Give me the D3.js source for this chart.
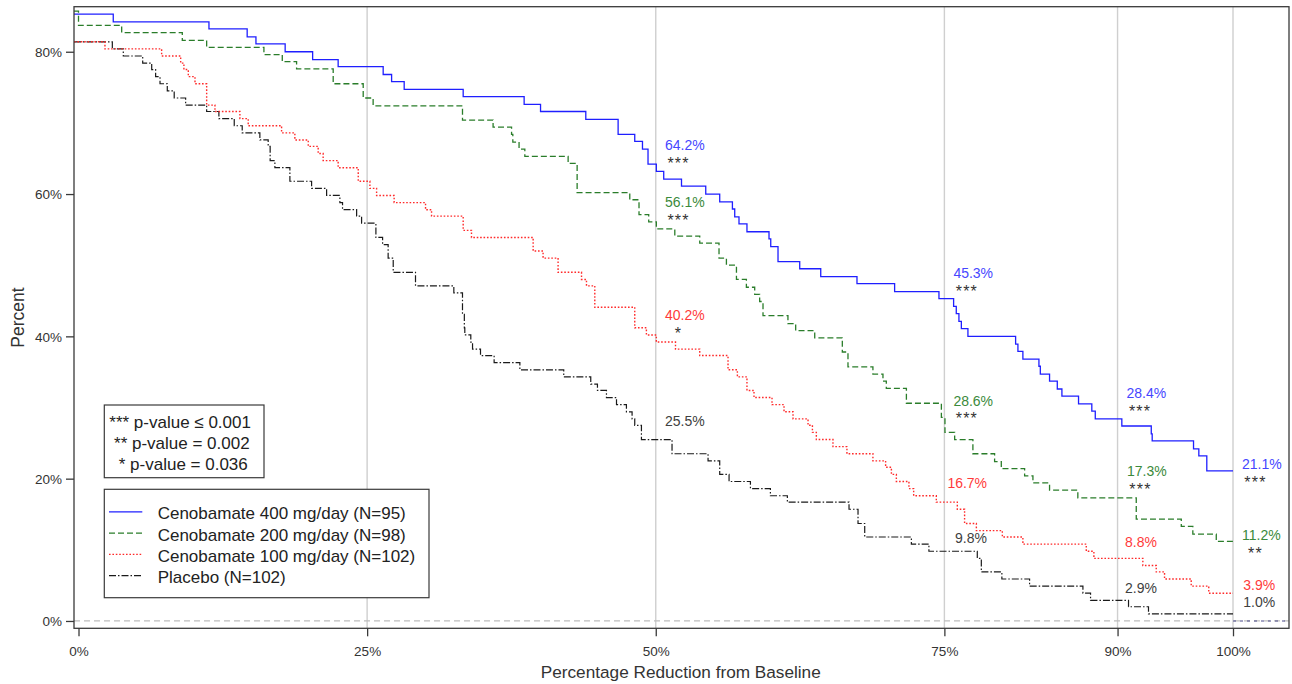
<!DOCTYPE html>
<html>
<head>
<meta charset="utf-8">
<script src="https://cdn.jsdelivr.net/npm/d3@7/dist/d3.min.js"></script>
<style>
  html, body { margin: 0; padding: 0; background: #fff; }
  svg { display: block; font-family: "Liberation Sans", Arial, sans-serif; }
</style>
</head>
<body>
<svg id="chart" width="1292" height="684"></svg>
<script>
// ---------------- DATA ----------------
const seriesNames = ["Cenobamate 400 mg/day (N=95)", "Cenobamate 200 mg/day (N=98)", "Cenobamate 100 mg/day (N=102)", "Placebo (N=102)"];

const blueStart = 85.3;
const blueX = [3.01, 11.30, 14.61, 15.37, 17.90, 20.28, 22.49, 26.39, 27.12, 28.21, 33.32, 38.60, 40.02, 43.94, 46.74, 48.18, 48.85, 49.33, 50.05, 50.69, 52.23, 54.33, 55.54, 56.64, 56.84, 57.21, 57.90, 59.81, 59.96, 60.59, 62.47, 64.29, 67.43, 70.69, 74.53, 75.80, 76.03, 76.26, 76.47, 77.04, 81.17, 81.37, 81.80, 83.19, 83.31, 84.11, 84.78, 85.18, 86.62, 87.77, 88.07, 90.37, 92.92, 93.00, 96.58, 97.04, 97.73];
const blueY = [84.2, 83.2, 82.1, 81.1, 80.0, 78.9, 77.9, 76.8, 75.8, 74.7, 73.7, 72.6, 71.6, 70.5, 68.4, 67.4, 66.3, 64.2, 63.2, 62.1, 61.1, 60.0, 58.9, 57.9, 56.8, 55.8, 54.7, 53.7, 52.6, 50.5, 49.5, 48.4, 47.4, 46.3, 45.3, 44.2, 43.2, 42.1, 41.1, 40.0, 38.9, 37.9, 36.8, 35.8, 34.7, 33.7, 32.6, 31.6, 30.5, 29.5, 28.4, 27.4, 26.3, 25.3, 24.2, 23.2, 21.1];

const greenStart = 85.7;
const greenX = [0.0, 3.74, 8.99, 11.10, 16.06, 17.65, 18.89, 22.06, 24.66, 25.52, 33.26, 35.91, 37.51, 37.62, 38.16, 38.66, 42.41, 43.19, 47.75, 48.55, 49.39, 50.05, 51.65, 53.81, 55.48, 56.12, 56.99, 57.85, 58.57, 59.00, 59.29, 61.45, 62.12, 63.77, 66.16, 66.65, 68.81, 69.68, 69.97, 71.71, 74.74, 75.05, 75.89, 77.47, 79.35, 79.93, 81.95, 82.67, 84.11, 86.56, 91.62, 95.52, 96.52, 98.55];
const greenY = [83.7, 82.7, 81.6, 80.6, 79.6, 78.6, 77.6, 75.5, 73.5, 72.4, 70.4, 69.4, 68.4, 67.3, 66.3, 65.3, 64.3, 60.2, 59.2, 57.1, 56.1, 55.1, 54.1, 53.1, 51.0, 50.0, 48.0, 46.9, 45.9, 44.9, 42.9, 41.8, 40.8, 39.8, 37.8, 35.7, 34.7, 33.7, 32.7, 30.6, 28.6, 26.5, 25.5, 23.5, 22.4, 21.4, 20.4, 19.4, 18.4, 17.3, 14.3, 13.3, 12.2, 11.2];

const redStart = 81.4;
const redX = [2.29, 7.20, 8.85, 9.13, 9.51, 10.09, 11.10, 11.82, 13.98, 14.70, 17.59, 18.74, 19.90, 20.76, 21.19, 22.49, 24.23, 25.24, 25.82, 27.34, 30.06, 30.58, 33.32, 34.04, 39.38, 40.24, 41.54, 43.57, 44.00, 44.72, 48.18, 49.19, 50.05, 51.71, 53.81, 56.26, 57.07, 57.90, 58.51, 60.07, 61.11, 61.89, 63.19, 63.57, 63.91, 65.35, 66.56, 68.81, 69.91, 70.41, 70.84, 71.93, 72.34, 74.30, 76.12, 76.75, 77.77, 80.02, 81.80, 87.29, 87.95, 92.19, 93.35, 94.07, 96.38, 97.90];
const redY = [80.4, 79.4, 78.4, 77.5, 76.5, 75.5, 72.5, 71.6, 70.6, 69.6, 68.6, 67.6, 66.7, 65.7, 64.7, 63.7, 61.8, 60.8, 59.8, 58.8, 57.8, 56.9, 54.9, 53.9, 52.0, 51.0, 49.0, 48.0, 47.1, 44.1, 41.2, 40.2, 39.2, 38.2, 37.3, 35.3, 34.3, 32.4, 31.4, 30.4, 29.4, 28.4, 27.5, 26.5, 25.5, 24.5, 23.5, 22.5, 21.6, 20.6, 19.6, 18.6, 17.6, 16.7, 15.7, 13.7, 12.7, 11.8, 10.8, 9.8, 8.8, 7.8, 6.9, 5.9, 4.9, 3.9];

const placeboStart = 81.4;
const placeboX = [2.93, 3.88, 5.56, 6.34, 6.68, 7.06, 7.69, 8.29, 9.28, 11.10, 12.16, 13.49, 14.18, 15.71, 16.43, 16.60, 17.01, 18.31, 20.19, 21.49, 22.64, 22.87, 24.09, 24.52, 25.76, 26.34, 26.82, 27.26, 29.19, 32.51, 33.26, 33.42, 33.46, 33.98, 34.13, 34.82, 36.00, 38.23, 42.03, 44.37, 44.95, 45.73, 46.60, 47.46, 47.95, 48.18, 48.76, 51.41, 54.53, 55.54, 56.35, 58.20, 59.93, 61.40, 66.74, 67.52, 68.10, 72.14, 73.66, 77.85, 78.20, 79.98, 82.38, 87.00, 87.66, 90.95, 92.68];
const placeboY = [80.4, 79.4, 78.4, 77.5, 76.5, 75.5, 74.5, 73.5, 72.5, 71.6, 70.6, 69.6, 68.6, 67.6, 66.7, 64.7, 63.7, 61.8, 60.8, 59.8, 58.8, 57.8, 56.9, 55.9, 53.9, 52.9, 51.0, 49.0, 47.1, 46.1, 43.1, 41.2, 40.2, 39.2, 38.2, 37.3, 36.3, 35.3, 34.3, 33.3, 32.4, 31.4, 30.4, 29.4, 28.4, 27.5, 25.5, 23.5, 22.5, 20.6, 19.6, 18.6, 17.6, 16.7, 15.7, 13.7, 11.8, 10.8, 9.8, 8.8, 6.9, 5.9, 4.9, 3.9, 2.9, 2.0, 1.0];

// thresholds and annotated values
const thresholds = [50, 75, 90, 100];
const blueLabels = ["64.2%", "45.3%", "28.4%", "21.1%"];
const greenLabels = ["56.1%", "28.6%", "17.3%", "11.2%"];
const redLabels = ["40.2%", "16.7%", "8.8%", "3.9%"];
const placeboLabels = ["25.5%", "9.8%", "2.9%", "1.0%"];
const blueStars = ["***", "***", "***", "***"];
const greenStars = ["***", "***", "***", "**"];
const redStars = ["*", "", "", ""];

const xTicks = [0, 25, 50, 75, 90, 100];
const yTicks = [0, 20, 40, 60, 80];
const pLegend = ["*** p-value \u2264 0.001", " ** p-value = 0.002", "  * p-value = 0.036"];

// ---------------- LAYOUT ----------------
const svg = d3.select("#chart");
const frame = { left: 74, right: 1289, top: 6.7, bottom: 628.3 };
const x = d3.scaleLinear().domain([-0.39, 104.85]).range([frame.left, frame.right]);
const y = d3.scaleLinear().domain([-1.03, 86.33]).range([frame.bottom, frame.top]);

const styles = [
  { line: "#1f1fff", text: "#4646ff", dash: null, w: 1.3 },
  { line: "#2a7d2a", text: "#3b8a3b", dash: "6,3", w: 1.3 },
  { line: "#ff2a2a", text: "#ff3a3a", dash: "1.6,1.8", w: 1.4 },
  { line: "#1a1a1a", text: "#404040", dash: "7,2,1.5,2", w: 1.2 }
];

// gridlines
svg.append("g").selectAll("line").data(xTicks.filter(d => d > 0)).join("line")
  .attr("x1", d => x(d)).attr("x2", d => x(d))
  .attr("y1", frame.top).attr("y2", frame.bottom)
  .attr("stroke", "#cfcfcf").attr("stroke-width", 1.4);

// zero reference line
svg.append("line")
  .attr("x1", frame.left).attr("x2", frame.right)
  .attr("y1", y(0)).attr("y2", y(0))
  .attr("stroke", "#bdbdbd").attr("stroke-width", 1.2).attr("stroke-dasharray", "6,4");
svg.append("line")
  .attr("x1", x(100)).attr("x2", frame.right)
  .attr("y1", y(0)).attr("y2", y(0))
  .attr("stroke", "#4a4a8a").attr("stroke-width", 1.1).attr("stroke-dasharray", "3,4");

// curves
const seriesData = [
  [blueStart, blueX, blueY],
  [greenStart, greenX, greenY],
  [redStart, redX, redY],
  [placeboStart, placeboX, placeboY]
].map(([s, xs, ys]) => {
  const pts = [[x.domain()[0], s]];
  xs.forEach((v, i) => pts.push([v, ys[i]]));
  pts.push([100, ys[ys.length - 1]]);
  return pts;
});

const line = d3.line().x(d => x(d[0])).y(d => y(d[1])).curve(d3.curveStepAfter);
const curveG = svg.append("g");
[3, 2, 1, 0].forEach(i => {
  curveG.append("path")
    .datum(seriesData[i])
    .attr("d", line)
    .attr("fill", "none")
    .attr("stroke", styles[i].line)
    .attr("stroke-width", styles[i].w)
    .attr("stroke-dasharray", styles[i].dash);
});

// frame
svg.append("rect")
  .attr("x", frame.left).attr("y", frame.top)
  .attr("width", frame.right - frame.left).attr("height", frame.bottom - frame.top)
  .attr("fill", "none").attr("stroke", "#3a3a3a").attr("stroke-width", 1.3);

// axes
const xAxis = svg.append("g").attr("transform", `translate(0,${frame.bottom})`)
  .call(d3.axisBottom(x).tickValues(xTicks).tickFormat(d => d + "%").tickSize(8).tickPadding(10));
const yAxis = svg.append("g").attr("transform", `translate(${frame.left},0)`)
  .call(d3.axisLeft(y).tickValues(yTicks).tickFormat(d => d + "%").tickSize(8).tickPadding(4));
[xAxis, yAxis].forEach(g => {
  g.select(".domain").remove();
  g.selectAll(".tick line").attr("stroke", "#3a3a3a").attr("stroke-width", 1.3);
  g.selectAll(".tick text").attr("fill", "#333").style("font-size", "13.5px")
    .style("font-family", "'Liberation Sans', Arial, sans-serif");
});
yAxis.selectAll(".tick text").attr("dy", "0.36em");

// axis titles
svg.append("text").attr("x", (x(0) + x(100)) / 2 + 25).attr("y", 678)
  .attr("text-anchor", "middle").attr("fill", "#333").style("font-size", "17.2px")
  .text("Percentage Reduction from Baseline");
svg.append("text").attr("transform", "translate(24,317.5) rotate(-90)")
  .attr("text-anchor", "middle").attr("fill", "#333").style("font-size", "17.5px")
  .text("Percent");

// annotations: [label start offset px, baseline px]
const annLayout = [
  [[9.3, 150], [9, 278.3], [9, 398.3], [9, 469.3]],
  [[9.3, 207], [9, 405.7], [9.4, 476], [9, 540]],
  [[9.3, 320], [3, 488], [7.4, 547.3], [10.3, 590]],
  [[9.3, 426], [10.6, 543.3], [7.4, 593.3], [10.3, 606.7]]
];
const allLabels = [blueLabels, greenLabels, redLabels, placeboLabels];
const allStars = [blueStars, greenStars, redStars, ["", "", "", ""]];
const annG = svg.append("g");
allLabels.forEach((labels, si) => {
  labels.forEach((lab, ti) => {
    const [dx, by] = annLayout[si][ti];
    const sx = x(thresholds[ti]) + dx;
    annG.append("text").attr("x", sx).attr("y", by)
      .attr("fill", styles[si].text).style("font-size", "14px").text(lab);
    const st = allStars[si][ti];
    if (st) {
      annG.append("text").attr("x", sx + 13.5).attr("y", by + 18.5)
        .attr("text-anchor", "middle").attr("fill", "#333")
        .style("font-size", "16px").style("letter-spacing", "1.2px").text(st);
    }
  });
});

// p-value legend
svg.append("rect").attr("x", 104.3).attr("y", 405).attr("width", 159.7).attr("height", 72.7)
  .attr("fill", "#fff").attr("stroke", "#3a3a3a").attr("stroke-width", 1.2);
svg.append("g").selectAll("text").data(pLegend).join("text")
  .attr("x", 109.3).attr("y", (d, i) => 428.3 + i * 20.9)
  .style("white-space", "pre").attr("fill", "#222").style("font-size", "17px")
  .text(d => d);

// series legend
svg.append("rect").attr("x", 104.3).attr("y", 489.3).attr("width", 324.7).attr("height", 108.4)
  .attr("fill", "#fff").attr("stroke", "#3a3a3a").attr("stroke-width", 1.2);
const lg = svg.append("g").selectAll("g").data(seriesNames).join("g")
  .attr("transform", (d, i) => `translate(0,${519.3 + i * 21.3})`);
lg.append("line").attr("x1", 109).attr("x2", 142.3).attr("y1", -7.5).attr("y2", -7.5)
  .attr("stroke", (d, i) => styles[i].line).attr("stroke-width", (d, i) => styles[i].w)
  .attr("stroke-dasharray", (d, i) => styles[i].dash);
lg.append("text").attr("x", 157.7).attr("y", 0).attr("fill", "#222")
  .style("font-size", "17px").text(d => d);
</script>
</body>
</html>
